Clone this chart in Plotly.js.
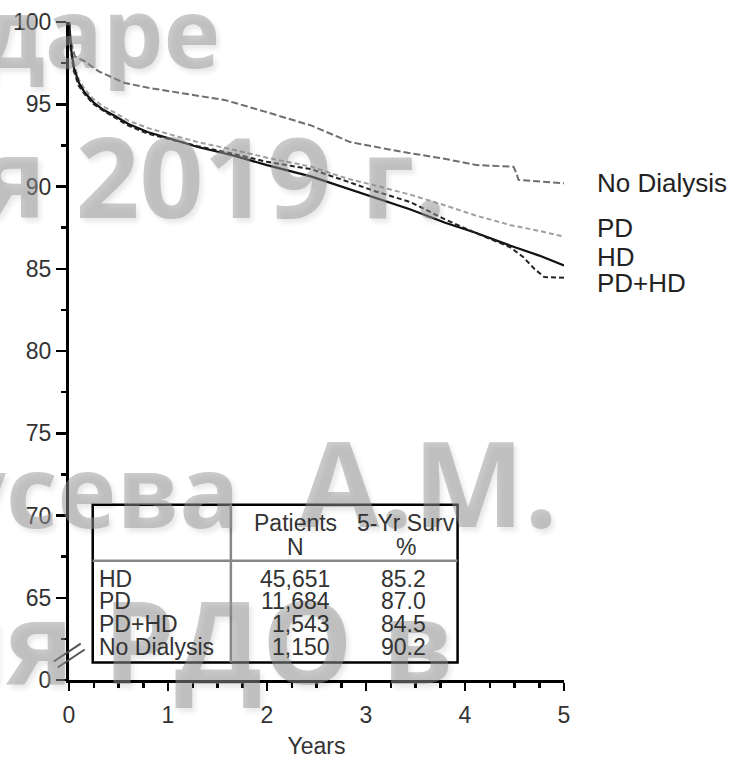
<!DOCTYPE html>
<html><head><meta charset="utf-8">
<script src="https://cdn.plot.ly/plotly-3.0.1.min.js"></script>
<style>html,body{margin:0;padding:0;background:#fff}#chart{width:734px;height:759px}</style>
</head><body><div id="chart"></div>
<script>
// ---- data ----
const hdYears   = [0, 0.02, 0.05, 0.1, 0.16, 0.25, 0.35, 0.46, 0.6, 0.8, 1.0, 1.3, 1.65, 2.0, 2.45, 2.8, 3.1, 3.45, 3.8, 4.1, 4.46, 4.75, 5.0];
const hdSurv    = [100, 98.4, 97.2, 96.3, 95.7, 95.1, 94.65, 94.3, 93.8, 93.3, 92.95, 92.4, 91.9, 91.3, 90.6, 89.9, 89.3, 88.6, 87.8, 87.2, 86.4, 85.8, 85.2];
const pdYears   = [0, 0.02, 0.05, 0.1, 0.16, 0.25, 0.35, 0.46, 0.6, 0.8, 1.0, 1.3, 1.65, 2.0, 2.45, 2.8, 3.1, 3.45, 3.8, 4.1, 4.46, 4.75, 5.0];
const pdSurv    = [100, 98.5, 97.4, 96.5, 95.9, 95.3, 94.85, 94.5, 94.0, 93.55, 93.2, 92.7, 92.25, 91.75, 91.2, 90.5, 90.05, 89.5, 88.85, 88.25, 87.65, 87.3, 86.95];
const pdhdYears = [0, 0.02, 0.05, 0.1, 0.16, 0.25, 0.35, 0.46, 0.6, 0.8, 1.0, 1.3, 1.65, 2.0, 2.45, 2.8, 3.1, 3.45, 3.8, 4.1, 4.46, 4.59, 4.7, 4.8, 5.0];
const pdhdSurv  = [100, 98.2, 97.0, 96.1, 95.6, 95.0, 94.6, 94.2, 93.7, 93.2, 92.9, 92.45, 92.0, 91.5, 91.05, 90.3, 89.7, 89.05, 88.0, 87.2, 86.3, 85.7, 85.0, 84.5, 84.45];
const ndYears   = [0, 0.02, 0.06, 0.16, 0.3, 0.56, 0.8, 1.17, 1.58, 1.98, 2.45, 2.84, 3.1, 3.37, 3.78, 4.12, 4.49, 4.52, 4.54, 5.0];
const ndSurv    = [100, 98.8, 97.9, 97.6, 97.0, 96.3, 96.0, 95.65, 95.25, 94.55, 93.7, 92.7, 92.4, 92.1, 91.7, 91.3, 91.2, 90.8, 90.4, 90.2];

const yTickVals  = [60, 65, 70, 75, 80, 85, 90, 95, 100];
const yTickText  = ['0', '65', '70', '75', '80', '85', '90', '95', '100'];
const xTickVals  = [0, 1, 2, 3, 4, 5];

const curveLabels = ['No Dialysis', 'PD', 'HD', 'PD+HD'];
const tableGroups = ['HD', 'PD', 'PD+HD', 'No Dialysis'];
const tablePatients = ['45,651', '11,684', '1,543', '1,150'];
const tableSurv5 = ['85.2', '87.0', '84.5', '90.2'];
const tableHeaderN = ['Patients', 'N'];
const tableHeaderS = ['5-Yr Surv', '%'];
const watermarkParts = ['даре', 'я 2019 г.', 'усева', 'А.М.', 'ия РДО в'];

// ---- geometry (pixels) ----
const L = 69.3, R = 734 - 563.8, T = 21.7, B = 759 - 680.5;
const W = 734 - L - R, H = 759 - T - B;
const px = p => (p - L) / W;
const py = p => (759 - B - p) / H;

const FONT = 'Liberation Sans, Arial, Helvetica, sans-serif';
const txtCol = '#333';

const traces = [
  {x: ndYears, y: ndSurv, mode: 'lines', line: {color: '#6e6e6e', width: 2, dash: '7px,3px'}},
  {x: pdYears, y: pdSurv, mode: 'lines', line: {color: '#a0a0a0', width: 2, dash: '5px,3px'}},
  {x: hdYears, y: hdSurv, mode: 'lines', line: {color: '#111', width: 2.2}},
  {x: pdhdYears, y: pdhdSurv, mode: 'lines', line: {color: '#222', width: 2, dash: '5px,3px'}}
];

const ann = [];
// watermark (drawn first so the chart texts sit on top)
const wmRight = [222, 448, 242, 560, 456];
const wmBase  = [70, 220, 530, 530, 686];
const wmSize  = [96, 112, 100, 118, 114];
watermarkParts.forEach((t, i) => ann.push({
  text: t, xref: 'paper', yref: 'paper', x: px(wmRight[i]), y: py(wmBase[i] + 0.293 * wmSize[i]),
  xanchor: 'right', yanchor: 'bottom', showarrow: false,
  font: {family: 'Open Sans', size: wmSize[i], weight: 700, color: 'rgba(150,150,150,0.5)', shadow: '3px 4px 5px rgba(0,0,0,0.18)'}
}));
// curve labels at right
const labelY = [90.19, 87.46, 85.73, 84.12];
curveLabels.forEach((t, i) => ann.push({
  text: t, xref: 'paper', yref: 'y', x: px(595), y: labelY[i], xanchor: 'left', yanchor: 'middle',
  showarrow: false, font: {family: FONT, size: 26, color: '#222'}
}));
// table
const rowY = [579, 601, 624, 647];
tableGroups.forEach((g, i) => {
  ann.push({text: g, xref: 'paper', yref: 'paper', x: px(97), y: py(rowY[i]), xanchor: 'left', yanchor: 'middle', showarrow: false, font: {family: FONT, size: 23, color: txtCol}});
  ann.push({text: tablePatients[i], xref: 'paper', yref: 'paper', x: px(332), y: py(rowY[i]), xanchor: 'right', yanchor: 'middle', showarrow: false, font: {family: FONT, size: 23, color: txtCol}});
  ann.push({text: tableSurv5[i], xref: 'paper', yref: 'paper', x: px(403), y: py(rowY[i]), xanchor: 'center', yanchor: 'middle', showarrow: false, font: {family: FONT, size: 23, color: txtCol}});
});
const headY = [523, 547];
tableHeaderN.forEach((t, i) => ann.push({text: t, xref: 'paper', yref: 'paper', x: px(296), y: py(headY[i]), xanchor: 'center', yanchor: 'middle', showarrow: false, font: {family: FONT, size: 23, color: txtCol}}));
tableHeaderS.forEach((t, i) => ann.push({text: t, xref: 'paper', yref: 'paper', x: px(406), y: py(headY[i]), xanchor: 'center', yanchor: 'middle', showarrow: false, font: {family: FONT, size: 23, color: txtCol}}));

const shapes = [
  {type: 'rect', xref: 'paper', yref: 'paper', x0: px(93), x1: px(457.5), y0: py(663), y1: py(505), line: {color: '#000', width: 2.5}},
  {type: 'line', xref: 'paper', yref: 'paper', x0: px(231), x1: px(231), y0: py(663), y1: py(505), line: {color: '#888', width: 2.5}},
  {type: 'line', xref: 'paper', yref: 'paper', x0: px(93), x1: px(457.5), y0: py(561), y1: py(561), line: {color: '#888', width: 2.5}},
  // axis break marks
  {type: 'line', xref: 'paper', yref: 'paper', x0: px(54), x1: px(81), y0: py(662), y1: py(644), line: {color: '#555', width: 2}},
  {type: 'line', xref: 'paper', yref: 'paper', x0: px(58), x1: px(85), y0: py(668), y1: py(650), line: {color: '#555', width: 2}}
];

const layout = {
  width: 734, height: 759,
  margin: {l: L, r: R, t: T, b: B, pad: 0},
  paper_bgcolor: '#fff', plot_bgcolor: 'rgba(0,0,0,0)',
  showlegend: false,
  font: {family: FONT, color: txtCol},
  xaxis: {
    range: [0, 5], tickvals: xTickVals, ticks: 'outside', ticklen: 8, tickwidth: 2.5, tickcolor: '#000',
    showline: true, linewidth: 3, linecolor: '#000', zeroline: false, showgrid: false,
    tickfont: {family: FONT, size: 23, color: txtCol}, ticklabelstandoff: 4,
    minor: {dtick: 0.25, tick0: 0, ticks: 'outside', ticklen: 5, tickwidth: 2.5, tickcolor: '#000', showgrid: false},
    title: {text: 'Years', font: {family: FONT, size: 23, color: txtCol}, standoff: 16}
  },
  yaxis: {
    range: [60, 100], tickvals: yTickVals, ticktext: yTickText, ticks: 'outside', ticklen: 10, tickwidth: 2.5, tickcolor: '#000',
    showline: true, linewidth: 3, linecolor: '#000', zeroline: false, showgrid: false,
    tickfont: {family: FONT, size: 23, color: txtCol},
    minor: {dtick: 2.5, tick0: 60, ticks: 'outside', ticklen: 5, tickwidth: 2.5, tickcolor: '#000', showgrid: false}
  },
  annotations: ann,
  shapes: shapes
};

Plotly.newPlot('chart', traces, layout, {displayModeBar: false, staticPlot: true});
</script>
</body></html>
